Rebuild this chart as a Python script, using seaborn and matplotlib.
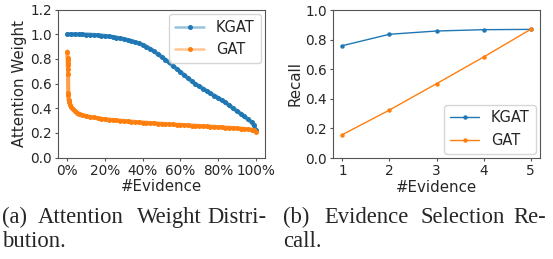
import matplotlib
matplotlib.use("Agg")
import matplotlib.pyplot as plt
from matplotlib.colors import to_rgba
import pandas as pd
import seaborn as sns

# (a) attention weight, evidence sorted by weight (x in percent)
kgat_pct = list(range(0, 100, 2)) + [99, 100]
kgat_weight = [
    1.000, 1.000, 1.000, 0.999, 0.999, 0.998, 0.997, 0.995, 0.993, 0.990,
    0.987, 0.983, 0.979, 0.974, 0.968, 0.962, 0.954, 0.946, 0.937, 0.927,
    0.915, 0.900, 0.882, 0.862, 0.840, 0.818, 0.795, 0.772, 0.745, 0.720,
    0.696, 0.670, 0.645, 0.620, 0.597, 0.578, 0.560, 0.540, 0.520, 0.503,
    0.485, 0.465, 0.447, 0.423, 0.400, 0.378, 0.357, 0.333, 0.310, 0.285,
    0.265, 0.225,
]
gat_pct = [0, 0.05, 0.1, 0.15, 0.2, 0.25, 0.3, 0.35, 0.45, 0.5, 0.6, 0.8,
           1, 1.5, 2, 3, 4, 5] + list(range(6, 100, 2)) + [99, 100]
gat_weight = [
    0.86, 0.81, 0.80, 0.79, 0.77, 0.75, 0.72, 0.68, 0.52, 0.51, 0.47, 0.46,
    0.45, 0.43, 0.41, 0.39, 0.375, 0.365,
    0.357, 0.345, 0.337, 0.330, 0.325, 0.320, 0.315, 0.311, 0.308, 0.305,
    0.302, 0.299, 0.297, 0.294, 0.291, 0.289, 0.286, 0.284, 0.282, 0.280,
    0.278, 0.276, 0.274, 0.272, 0.270, 0.268, 0.266, 0.265, 0.263, 0.261,
    0.259, 0.258, 0.256, 0.254, 0.252, 0.250, 0.249, 0.247, 0.245, 0.243,
    0.241, 0.239, 0.237, 0.235, 0.232, 0.229, 0.225,
    0.220, 0.210,
]

# (b) evidence selection recall
n_evidence = [1, 2, 3, 4, 5]
kgat_recall = [0.759, 0.836, 0.858, 0.867, 0.869]
gat_recall = [0.158, 0.324, 0.502, 0.682, 0.869]

pct_ticks = [0, 20, 40, 60, 80, 100]
pct_labels = ["0%", "20%", "40%", "60%", "80%", "100%"]
weight_ticks = [0.0, 0.2, 0.4, 0.6, 0.8, 1.0, 1.2]
recall_ticks = [0.0, 0.2, 0.4, 0.6, 0.8, 1.0]

caption_a = [("(a)", 2), ("Attention", 38), ("Weight", 137), ("Distri-", 207)]
caption_a2 = [("bution.", 2)]
caption_b = [("(b)", 283), ("Evidence", 324), ("Selection", 420), ("Re-", 513)]
caption_b2 = [("call.", 283)]

BLUE = "#1f77b4"
ORANGE = "#ff7f0e"

sns.set_style("ticks")
plt.rcParams["font.family"] = ["DejaVu Sans"]
plt.rcParams["axes.edgecolor"] = "#555555"
plt.rcParams["axes.linewidth"] = 0.8

W, H = 553, 259
fig = plt.figure(figsize=(W / 100, H / 100), dpi=100)
ax1 = fig.add_axes([58 / W, 1 - 157.5 / H, 207 / W, 147.8 / H])
ax2 = fig.add_axes([333 / W, 1 - 158 / H, 207 / W, 148 / H])

df_a = pd.concat([
    pd.DataFrame({"pct": kgat_pct, "w": kgat_weight, "model": "KGAT"}),
    pd.DataFrame({"pct": gat_pct, "w": gat_weight, "model": "GAT"}),
])
for name, c in [("KGAT", BLUE), ("GAT", ORANGE)]:
    sub = df_a[df_a["model"] == name]
    sns.lineplot(data=sub, x="pct", y="w", ax=ax1, label=name,
                 color=to_rgba(c, 0.75), lw=3.0, marker="o", ms=3.6,
                 markerfacecolor=c, markeredgecolor=c, markeredgewidth=0)

df_b = pd.DataFrame({
    "n": n_evidence * 2,
    "recall": kgat_recall + gat_recall,
    "model": ["KGAT"] * 5 + ["GAT"] * 5,
})
for name, c in [("KGAT", BLUE), ("GAT", ORANGE)]:
    sub = df_b[df_b["model"] == name]
    sns.lineplot(data=sub, x="n", y="recall", ax=ax2, label=name,
                 color=c, lw=1.0, marker="o", ms=3.2,
                 markerfacecolor=c, markeredgecolor=c, markeredgewidth=0)

ax1.set_xlim(-5, 105)
ax1.set_ylim(0, 1.2)
ax1.set_xticks(pct_ticks)
ax1.set_xticklabels(pct_labels)
ax1.set_yticks(weight_ticks)
ax1.set_yticklabels([f"{t:.1f}" for t in weight_ticks])
ax1.set_xlabel("#Evidence", fontsize=10.8, labelpad=1)
ax1.set_ylabel("Attention Weight", fontsize=10.8, labelpad=2)
leg1 = ax1.legend(loc="upper right", fontsize=10.5, borderaxespad=0.3)
for h in leg1.legend_handles:
    h.set_linewidth(1.8)
    h.set_color(to_rgba(h.get_markerfacecolor(), 0.45))

ax2.set_xlim(0.8, 5.2)
ax2.set_ylim(0, 1.0)
ax2.set_xticks(n_evidence)
ax2.set_yticks(recall_ticks)
ax2.set_yticklabels([f"{t:.1f}" for t in recall_ticks])
ax2.set_xlabel("#Evidence", fontsize=10.8, labelpad=1)
ax2.set_ylabel("Recall", fontsize=10.8, labelpad=2)
ax2.legend(loc="lower right", fontsize=10.5, borderaxespad=0.3)

for ax in (ax1, ax2):
    ax.tick_params(labelsize=9.8, length=2.5, width=0.8, pad=2,
                   color="#555555")

for words, base in [(caption_a, 223), (caption_a2, 247),
                    (caption_b, 223), (caption_b2, 247)]:
    for word, x in words:
        fig.text(x / W, 1 - base / H, word, ha="left", va="baseline",
                 fontsize=16.3, family="Liberation Serif")

fig.savefig("out.png", dpi=100)
